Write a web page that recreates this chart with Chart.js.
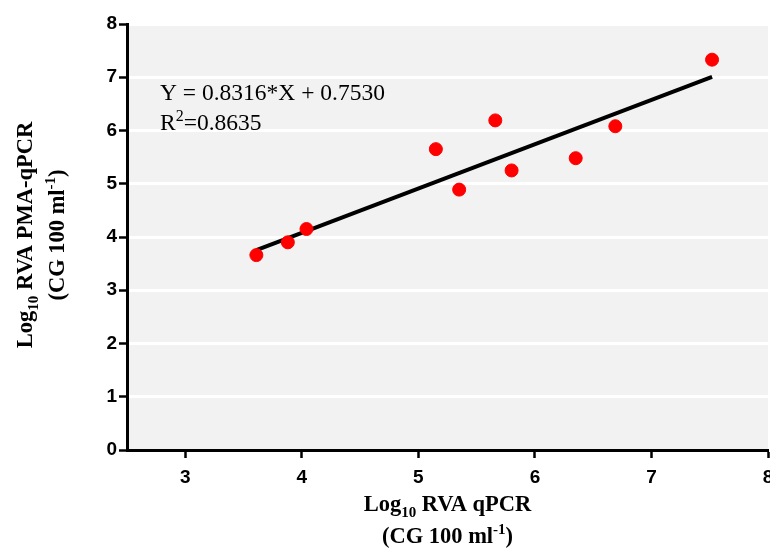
<!DOCTYPE html>
<html>
<head>
<meta charset="utf-8">
<script src="https://cdn.jsdelivr.net/npm/chart.js@4"></script>
<style>
  html, body { margin: 0; padding: 0; background: #ffffff; }
  #wrap { width: 770px; height: 549px; }
</style>
</head>
<body>
<div id="wrap"><canvas id="grafico"></canvas></div>
<script>
// dados
const xValues   = [3.61, 3.88, 4.04, 5.15, 5.35, 5.66, 5.80, 6.35, 6.69, 7.52];
const yValues   = [3.66, 3.90, 4.15, 5.65, 4.89, 6.19, 5.25, 5.48, 6.08, 7.33];
const slope     = 0.8316;
const intercept = 0.7530;
const r2        = 0.8635;
const xTicks    = [3, 4, 5, 6, 7, 8];
const yTicks    = [0, 1, 2, 3, 4, 5, 6, 7, 8];

const pontos = xValues.map((x, i) => ({ x: x, y: yValues[i] }));
const xMin   = Math.min(...xValues);
const xMax   = Math.max(...xValues);
const reta   = [xMin, xMax].map((x) => ({ x: x, y: slope * x + intercept }));

const tickFont = { family: "'Liberation Sans', Arial, sans-serif", size: 19, weight: 'bold' };
const serif    = "'Liberation Serif', 'Times New Roman', serif";

// escreve texto com subscrito / sobrescrito
const richText = function (ctx, parts, x, y, size, bold, align) {
    const base  = (bold ? 'bold ' : '') + size + 'px ' + serif;
    const small = (bold ? 'bold ' : '') + Math.round(size * 0.68) + 'px ' + serif;
    let total = 0;
    parts.forEach((p) => { ctx.font = p.sub || p.sup ? small : base; total += ctx.measureText(p.t).width; });
    let cx = align === 'center' ? x - total / 2 : x;
    parts.forEach((p) => {
        ctx.font = p.sub || p.sup ? small : base;
        const dy = p.sub ? size * 0.28 : (p.sup ? -size * 0.38 : 0);
        ctx.fillText(p.t, cx, y + dy);
        cx += ctx.measureText(p.t).width;
    });
}

// a figura original deixa o eixo x ir ate a borda (rotulo "8" cortado)
const bordaDireita = {
    id: 'bordaDireita',
    afterLayout(chart) {
        const xs = chart.scales.x;
        const right = chart.width - 2;
        if (!xs || xs.right >= right) return;
        xs.right = right;
        xs.width = xs.right - xs.left;
        xs.configure();
        chart.chartArea.right = right;
        chart.chartArea.width = right - chart.chartArea.left;
    }
}

const fundo = {
    id: 'fundo',
    beforeDraw(chart) {
        const { ctx, chartArea: a } = chart;
        ctx.save();
        ctx.fillStyle = '#f2f2f2';
        ctx.fillRect(a.left, a.top, a.right - a.left, a.bottom - a.top);
        ctx.restore();
    }
}

const textos = {
    id: 'textos',
    afterDraw(chart) {
        const { ctx, chartArea: a } = chart;
        ctx.save();
        ctx.fillStyle = '#000';
        ctx.textBaseline = 'alphabetic';
        ctx.textAlign = 'left';
        // equacao
        richText(ctx, [{ t: 'Y = ' + slope.toFixed(4) + '*X + ' + intercept.toFixed(4) }], 160, 100, 23.5, false, 'left');
        richText(ctx, [{ t: 'R' }, { t: '2', sup: true }, { t: '=' + r2.toFixed(4) }], 160, 130, 23.5, false, 'left');
        // titulo eixo x
        const cx = (a.left + a.right) / 2;
        richText(ctx, [{ t: 'Log' }, { t: '10', sub: true }, { t: ' RVA qPCR' }], cx, 511, 22.5, true, 'center');
        richText(ctx, [{ t: '(CG 100 ml' }, { t: '-1', sup: true }, { t: ')' }], cx, 543, 22.5, true, 'center');
        // titulo eixo y
        const cy = (a.top + a.bottom) / 2 - 2;
        ctx.translate(32, cy);
        ctx.rotate(-Math.PI / 2);
        richText(ctx, [{ t: 'Log' }, { t: '10', sub: true }, { t: ' RVA PMA-qPCR' }], 0, 0, 22.5, true, 'center');
        richText(ctx, [{ t: '(CG 100 ml' }, { t: '-1', sup: true }, { t: ')' }], 0, 32, 22.5, true, 'center');
        ctx.restore();
    }
}

new Chart(document.getElementById('grafico'), {
    type: 'scatter',
    data: {
        datasets: [
            { data: reta, type: 'line', borderColor: '#000', borderWidth: 4, pointRadius: 0, fill: false, order: 2 },
            { data: pontos, backgroundColor: '#ff0000', borderColor: '#ff0000', pointRadius: 6.5, order: 1 }
        ]
    },
    options: {
        responsive: true,
        maintainAspectRatio: false,
        animation: false,
        layout: { padding: { top: 24, right: 2, left: 0, bottom: 0 } },
        plugins: { legend: { display: false }, tooltip: { enabled: false } },
        scales: {
            x: {
                type: 'linear', min: 2.5, max: 8,
                afterBuildTicks: (s) => { s.ticks = xTicks.map((v) => ({ value: v })); },
                afterFit: (s) => { s.height = 99; },
                border: { color: '#000', width: 3 },
                grid: { drawOnChartArea: false, tickColor: '#000', tickLength: 8, tickWidth: 2.5 },
                ticks: { color: '#000', font: tickFont, padding: 8 }
            },
            y: {
                type: 'linear', min: 0, max: 8,
                afterBuildTicks: (s) => { s.ticks = yTicks.map((v) => ({ value: v })); },
                afterFit: (s) => { s.width = 127; },
                border: { color: '#000', width: 3 },
                grid: { color: '#ffffff', lineWidth: 3, tickColor: '#000', tickLength: 8, tickWidth: 2.5 },
                ticks: { color: '#000', font: tickFont, padding: 2 }
            }
        }
    },
    plugins: [bordaDireita, fundo, textos]
})
</script>
</body>
</html>
